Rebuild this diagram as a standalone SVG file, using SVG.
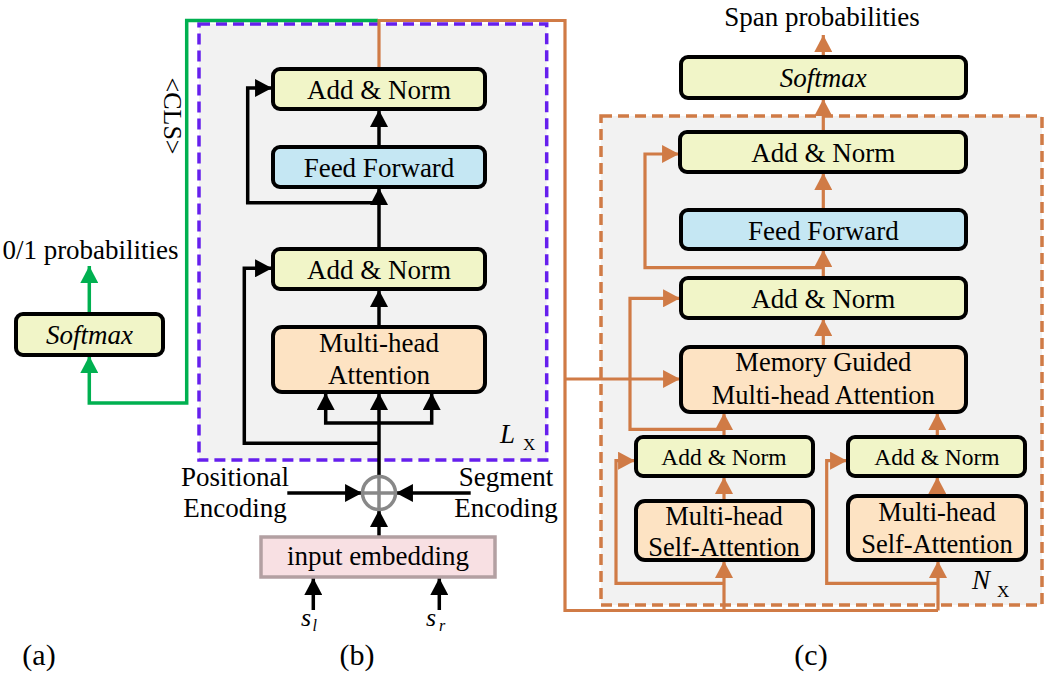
<svg xmlns="http://www.w3.org/2000/svg" width="1048" height="679" viewBox="0 0 1048 679">
<defs>
<style>
text{font-family:"Liberation Serif","Times New Roman",serif;fill:#000;}
.t{font-size:27px;text-anchor:middle;}
.ts{font-size:23.5px;text-anchor:middle;}
.t25{font-size:26.5px;text-anchor:middle;}
.it{font-style:italic;}
.box{stroke:#000;stroke-width:4;}
.yel{fill:#f1f5c8;}
.blu{fill:#c5e7f3;}
.pch{fill:#fde3c3;}
.k{fill:none;stroke:#000;stroke-width:3.5;}
.o{fill:none;stroke:#d07b46;stroke-width:3.2;}
.g{fill:none;stroke:#00b050;stroke-width:3.5;}
.ka{marker-end:url(#ak);}
.oa{marker-end:url(#ao);}
.ga{marker-end:url(#ag);}
</style>
<marker id="ak" markerUnits="userSpaceOnUse" markerWidth="18" markerHeight="18" viewBox="0 0 16 17" refX="16" refY="8.5" orient="auto"><path d="M0,0 L16,8.5 L0,17 z" fill="#000"/></marker>
<marker id="ao" markerUnits="userSpaceOnUse" markerWidth="18" markerHeight="18" viewBox="0 0 16 17" refX="16" refY="8.5" orient="auto"><path d="M0,0 L16,8.5 L0,17 z" fill="#d07b46"/></marker>
<marker id="ag" markerUnits="userSpaceOnUse" markerWidth="18" markerHeight="18" viewBox="0 0 16 17" refX="16" refY="8.5" orient="auto"><path d="M0,0 L16,8.5 L0,17 z" fill="#00b050"/></marker>
</defs>
<rect width="1048" height="679" fill="#fff"/>

<g id="frame-b">
<rect x="199" y="24" width="347.7" height="436" fill="#f2f2f2" stroke="#661fed" stroke-width="3.5" stroke-dasharray="11 6"/>
<text x="500" y="443" class="it" style="font-size:27px">L</text>
<text x="523" y="450" style="font-size:17px">X</text>
</g>
<g id="frame-c">
<rect x="601" y="116" width="441" height="489" fill="#f2f2f2" stroke="#d07b46" stroke-width="3.5" stroke-dasharray="11 6"/>
<text x="972" y="589" class="it" style="font-size:27px">N</text>
<text x="997" y="597" style="font-size:17px">X</text>
</g>

<g id="connectors">
<path class="g" d="M378,20.5 H186.7 V403 H89.3 V356" marker-end="url(#ag)"/>
<path class="g ga" d="M89.3,314 V266"/>
<path class="o" d="M379,69 V20.5 H565 V610.5 H938"/>
<path class="o oa" d="M565,379 H680"/>
<path class="o oa" d="M724,610.5 V561"/>
<path class="o oa" d="M938,610.5 V561"/>
<path class="k ka" d="M379,147 V110"/>
<path class="k ka" d="M379,249 V188"/>
<path class="k ka" d="M379,202.7 H247.7 V88 H272"/>
<path class="k ka" d="M379,327 V290"/>
<path class="k ka" d="M379,476.5 V393"/>
<path class="k ka" d="M379,423 H325.7 V393"/>
<path class="k ka" d="M379,423 H431.7 V393"/>
<path class="k ka" d="M379,443.3 H244.3 V268.3 H272"/>
<path class="k ka" d="M287.3,493 H362"/>
<path class="k ka" d="M470.7,493 H396"/>
<path class="k ka" d="M379,536.5 V510"/>
<path class="k ka" d="M313.3,610 V578"/>
<path class="k ka" d="M439.3,610 V578"/>
<path class="o oa" d="M823.3,57 V35"/>
<path class="o oa" d="M823.3,132 V99"/>
<path class="o oa" d="M823.3,210 V173"/>
<path class="o oa" d="M823.3,278 V250"/>
<path class="o oa" d="M823.3,267.7 H645 V154 H679"/>
<path class="o oa" d="M823.3,347 V319"/>
<path class="o oa" d="M724,437 V413"/>
<path class="o oa" d="M724,429.3 H630 V298.3 H680"/>
<path class="o oa" d="M937.3,437 V413"/>
<path class="o oa" d="M724,501 V477"/>
<path class="o oa" d="M724,583.3 H616 V460.7 H635"/>
<path class="o oa" d="M937.3,496 V477"/>
<path class="o oa" d="M937.3,583.3 H826.7 V460.7 H847"/>
</g>

<g id="softmax-a">
<rect class="box yel" x="16" y="314" width="147" height="41" rx="7"/>
<text x="89.5" y="344" class="t it">Softmax</text>
</g>
<g id="label-01prob"><text x="90.5" y="259" class="t">0/1 probabilities</text></g>
<g id="label-cls"><text class="t" transform="translate(164,116) rotate(90)" style="font-size:26px">&lt;CLS&gt;</text></g>

<g id="addnorm-b2">
<rect class="box yel" x="273" y="69" width="212" height="40" rx="7"/>
<text x="379" y="99" class="t">Add &amp; Norm</text>
</g>
<g id="ff-b">
<rect class="box blu" x="273" y="147" width="212" height="40" rx="7"/>
<text x="379" y="177" class="t">Feed Forward</text>
</g>
<g id="addnorm-b1">
<rect class="box yel" x="273" y="249" width="212" height="40" rx="7"/>
<text x="379" y="279" class="t">Add &amp; Norm</text>
</g>
<g id="mha-b">
<rect class="box pch" x="273" y="327" width="212" height="65" rx="9"/>
<text x="379" y="352" class="t">Multi-head</text>
<text x="379" y="384" class="t">Attention</text>
</g>
<g id="sum">
<circle cx="379" cy="493" r="16.5" fill="none" stroke="#888" stroke-width="3.5"/>
<path d="M362.5,493 H395.5 M379,476.5 V509.5" stroke="#888" stroke-width="3.5"/>
</g>
<g id="pos-enc">
<text x="235" y="486" class="t">Positional</text>
<text x="235" y="517" class="t">Encoding</text>
</g>
<g id="seg-enc">
<text x="506" y="486" class="t">Segment</text>
<text x="506" y="517" class="t">Encoding</text>
</g>
<g id="input-emb">
<rect x="261" y="537" width="234" height="40" fill="#f8e0e3" stroke="#b3a0a2" stroke-width="3.5"/>
<text x="378" y="565" class="t">input embedding</text>
</g>
<g id="sl"><text x="301" y="626" class="it" style="font-size:26px">s</text><text x="312.5" y="631" class="it" style="font-size:16px">l</text></g>
<g id="sr"><text x="426" y="626" class="it" style="font-size:26px">s</text><text x="439" y="631" class="it" style="font-size:16px">r</text></g>

<g id="softmax-c">
<rect class="box yel" x="681" y="57" width="285" height="41" rx="7"/>
<text x="823.3" y="87" class="t it">Softmax</text>
</g>
<g id="label-span"><text x="822" y="26" class="t">Span probabilities</text></g>
<g id="addnorm-c3">
<rect class="box yel" x="680" y="132" width="286" height="40" rx="7"/>
<text x="823.3" y="162" class="t">Add &amp; Norm</text>
</g>
<g id="ff-c">
<rect class="box blu" x="681" y="210" width="285" height="39" rx="7"/>
<text x="823.3" y="240" class="t">Feed Forward</text>
</g>
<g id="addnorm-c2">
<rect class="box yel" x="681" y="278" width="285" height="40" rx="7"/>
<text x="823.3" y="308" class="t">Add &amp; Norm</text>
</g>
<g id="mgmha">
<rect class="box pch" x="681" y="347" width="285" height="65" rx="9"/>
<text x="823.3" y="371" class="t25">Memory Guided</text>
<text x="823.3" y="404" class="t25">Multi-head Attention</text>
</g>
<g id="addnorm-cl">
<rect class="box yel" x="636" y="437" width="177" height="39" rx="7"/>
<text x="724" y="465" class="ts">Add &amp; Norm</text>
</g>
<g id="mhsa-l">
<rect class="box pch" x="636" y="501" width="177" height="59" rx="9"/>
<text x="724" y="525" class="t25">Multi-head</text>
<text x="724" y="556" class="t25">Self-Attention</text>
</g>
<g id="addnorm-cr">
<rect class="box yel" x="848" y="437" width="177" height="39" rx="7"/>
<text x="937" y="465" class="ts">Add &amp; Norm</text>
</g>
<g id="mhsa-r">
<rect class="box pch" x="848" y="496" width="178" height="64" rx="9"/>
<text x="937" y="521" class="t25">Multi-head</text>
<text x="937" y="553" class="t25">Self-Attention</text>
</g>

<g id="captions">
<text x="39" y="665" class="t" style="font-size:30px">(a)</text>
<text x="357" y="665" class="t" style="font-size:30px">(b)</text>
<text x="811" y="665" class="t" style="font-size:30px">(c)</text>
</g>
</svg>
